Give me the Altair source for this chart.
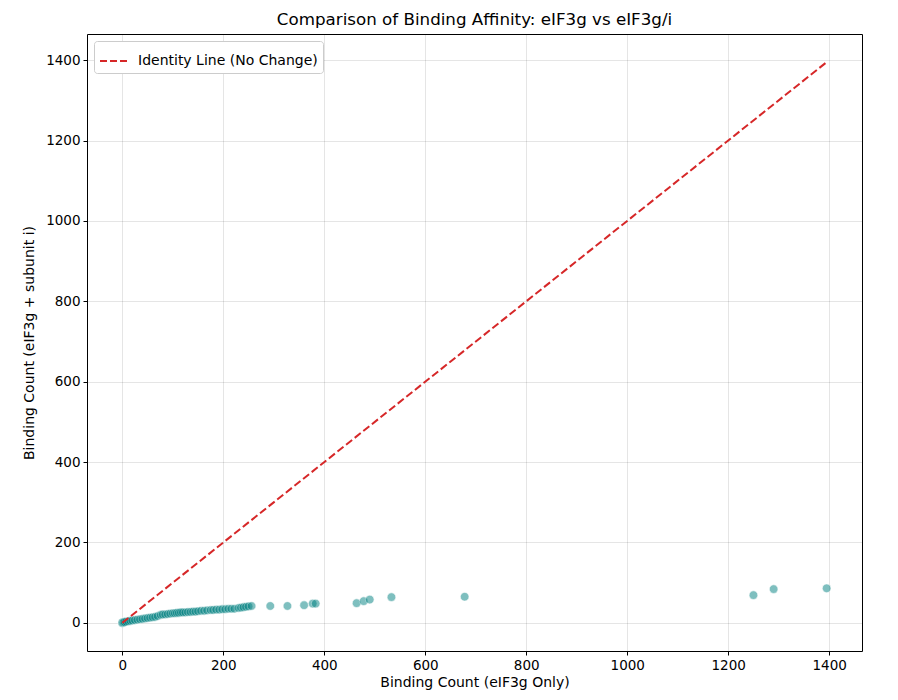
import altair as alt
import pandas as pd

# eIF3g-only binding counts (x) and eIF3g + subunit i binding counts (y)
x_vals = [0, 0, 0, 1, 2, 3, 5, 8, 12, 16, 20, 25, 30, 35, 40, 45, 50, 55, 60, 65, 70,
          76, 80, 85, 90, 95, 100, 104, 108, 112, 116, 120, 125, 130, 135, 140, 145,
          150, 156, 162, 168, 175, 180, 186, 192, 198, 204, 210, 216, 222, 230, 235,
          240, 245, 250, 256,
          293, 327, 360, 377, 383, 464, 478, 490, 533, 678, 1250, 1290, 1395]
y_vals = [0, 0, 1, 1, 1, 2, 2, 3, 4, 5, 6, 7, 8, 9, 10, 11, 12, 13, 14, 15, 17,
          20, 21, 21, 22, 23, 24, 24, 25, 25, 26, 26, 26, 27, 27, 28, 28,
          29, 30, 30, 31, 32, 32, 33, 33, 34, 34, 35, 35, 35, 37, 38,
          39, 40, 41, 42,
          42, 42, 44, 48, 48, 49, 54, 58, 64, 65, 69, 84, 86]

line_label = "Identity Line (No Change)"
max_val = max(x_vals)

points = pd.DataFrame({"x": x_vals, "y": y_vals})
identity = pd.DataFrame({"x": [0, max_val], "y": [0, max_val], "series": [line_label, line_label]})

font = "DejaVu Sans"
xscale = alt.Scale(domain=[-70, 1465], nice=False, zero=False)
yscale = alt.Scale(domain=[-70, 1465], nice=False, zero=False)
ticks = [0, 200, 400, 600, 800, 1000, 1200, 1400]

xaxis = alt.Axis(title="Binding Count (eIF3g Only)", values=ticks, format="d", grid=True,
                 gridColor="#000000", gridOpacity=0.1, domain=False,
                 tickColor="black", tickSize=4, labelFontSize=13.5, titleFontSize=14,
                 labelColor="black", titleColor="black", titleFontWeight="normal",
                 labelPadding=3, titlePadding=4, labelFont=font, titleFont=font)
yaxis = alt.Axis(title="Binding Count (eIF3g + subunit i)", values=ticks, format="d", grid=True,
                 gridColor="#000000", gridOpacity=0.1, domain=False,
                 tickColor="black", tickSize=4, labelFontSize=13.5, titleFontSize=14,
                 labelColor="black", titleColor="black", titleFontWeight="normal",
                 labelPadding=3, titlePadding=9, labelFont=font, titleFont=font)

scatter = alt.Chart(points).mark_circle(
    size=75, color="teal", opacity=0.5, stroke="white", strokeWidth=0.6
).encode(
    x=alt.X("x:Q", scale=xscale, axis=xaxis),
    y=alt.Y("y:Q", scale=yscale, axis=yaxis),
)

line = alt.Chart(identity).mark_line(strokeDash=[7.7, 3.3], strokeWidth=2, clip=True).encode(
    x=alt.X("x:Q", scale=xscale),
    y=alt.Y("y:Q", scale=yscale),
    color=alt.Color("series:N",
                    scale=alt.Scale(domain=[line_label], range=["#d62728"]),
                    legend=alt.Legend(title=None, orient="top-left", offset=7,
                                      symbolType="stroke", symbolDash=[7, 3],
                                      symbolStrokeWidth=2, symbolSize=784,
                                      labelFontSize=14, labelFont=font, labelColor="black",
                                      labelOffset=9, labelLimit=0,
                                      fillColor="white", strokeColor="#cccccc",
                                      padding=5, cornerRadius=3)),
)

chart = alt.layer(scatter, line).properties(
    width=775, height=617,
    title=alt.TitleParams("Comparison of Binding Affinity: eIF3g vs eIF3g/i",
                          fontSize=16.7, font=font, fontWeight="normal", color="black",
                          offset=5),
    autosize=alt.AutoSizeParams(type="none"),
    padding={"left": 79, "top": 26, "right": 28, "bottom": 41},
).configure_view(stroke="black", strokeWidth=1)

chart.save("out.html", embed_options={"renderer": "svg", "actions": False})
